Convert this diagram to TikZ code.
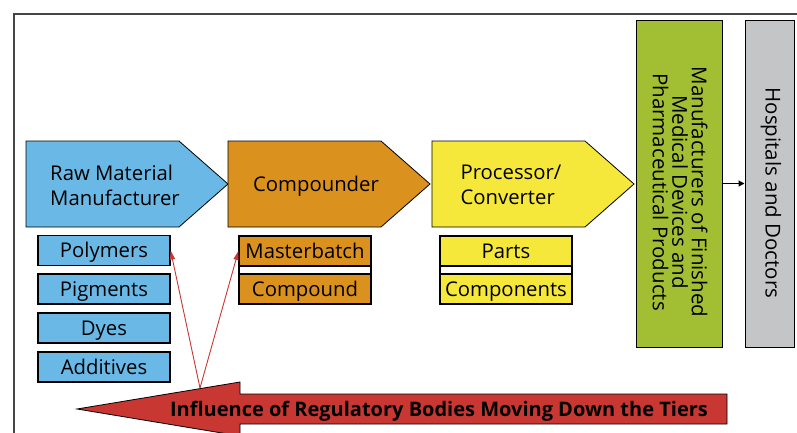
\documentclass[tikz,border=0pt]{standalone}
\usepackage{fontspec}
\setmainfont{Open Sans}
\usetikzlibrary{arrows.meta}
\definecolor{cblue}{RGB}{106,184,230}
\definecolor{corange}{RGB}{219,145,30}
\definecolor{cyellow}{RGB}{245,232,58}
\definecolor{cgreen}{RGB}{162,190,50}
\definecolor{cgray}{RGB}{196,197,199}
\definecolor{cred}{RGB}{200,55,50}
\definecolor{cframe}{RGB}{70,70,70}
\tikzset{
  tier/.style={draw=black, line width=0.8pt},
  item/.style={draw=black, line width=1.2pt, minimum width=132pt, minimum height=30pt, inner sep=0pt, text height=14.3pt, text depth=0pt},
  infl/.style={draw=cred, line width=0.9pt, -{Triangle[length=9pt,width=5pt]}},
}
\begin{document}
\begin{tikzpicture}[x=1pt,y=-1pt, font=\fontsize{20.3}{25}\selectfont]
\useasboundingbox (0,0) rectangle (797,432);
\clip (0,0) rectangle (797,432);
\draw[line width=1.3pt, cframe] (14,440) -- (14,14) -- (800,14);

% tiers
\draw[tier, fill=cblue] (26,141) -- (179,141) -- (228,184) -- (179,227) -- (26,227) -- cycle;
\node[align=left, inner sep=0pt] (raw) at (115,185) {Raw Material\\Manufacturer};
\draw[tier, fill=corange] (228,141) -- (381,141) -- (430,184) -- (381,227) -- (228,227) -- cycle;
\node[inner sep=0pt] (comp) at (316,186) {Compounder};
\draw[tier, fill=cyellow] (432,141) -- (585,141) -- (634,184) -- (585,227) -- (432,227) -- cycle;
\node[align=left, inner sep=0pt] (proc) at (511,185) {Processor/\\Converter};

% right boxes
\node[draw=black, line width=1pt, fill=cgreen, minimum width=86pt, minimum height=327pt, inner sep=0pt] (green) at (679,183.5) {};
\node[rotate=-90, align=center, inner sep=0pt, font=\fontsize{20.5}{19.5}\selectfont] (greentext) at (680,192) {Manufacturers of Finished\\Medical Devices and\\Pharmaceutical Products};
\node[draw=black, line width=1pt, fill=cgray, minimum width=49pt, minimum height=327pt, inner sep=0pt] (gray) at (769.5,183.5) {};
\node[rotate=-90, inner sep=0pt, font=\fontsize{20.5}{24}\selectfont] (graytext) at (771,193) {Hospitals and Doctors};
\draw[line width=1.2pt, -{Triangle[length=6pt,width=6pt]}] (green.east) -- (gray.west);

% items
\node[item, fill=cblue] (poly) at (104,250.5) {Polymers};
\node[item, fill=cblue] (pig) at (104,289) {Pigments};
\node[item, fill=cblue] (dyes) at (104,328) {Dyes};
\node[item, fill=cblue] (add) at (104,367) {Additives};

\draw[line width=1.2pt, fill=white] (239,236) rectangle (371,304);
\node[item, fill=corange] (mb) at (305,251) {Masterbatch};
\node[item, fill=corange] (cpd) at (305,289) {Compound};

\draw[line width=1.2pt, fill=white] (440,236) rectangle (572,304);
\node[item, fill=cyellow] (parts) at (506,251) {Parts};
\node[item, fill=cyellow] (cmps) at (506,289) {Components};

% influence arrow
\draw[line width=0.8pt, fill=cred] (77,409) -- (240,382) -- (240,394) -- (727,394) -- (727,424) -- (240,424) -- (240,436) -- cycle;
\node[font=\fontsize{20}{22}\selectfont\bfseries, inner sep=0pt, text height=14pt, text depth=0pt] (infltext) at (439,409) {Influence of Regulatory Bodies Moving Down the Tiers};
\coordinate (apex) at (200,388);
\draw[infl] (apex) -- (poly.east);
\draw[infl] (apex) -- (mb.west);
\end{tikzpicture}
\end{document}
